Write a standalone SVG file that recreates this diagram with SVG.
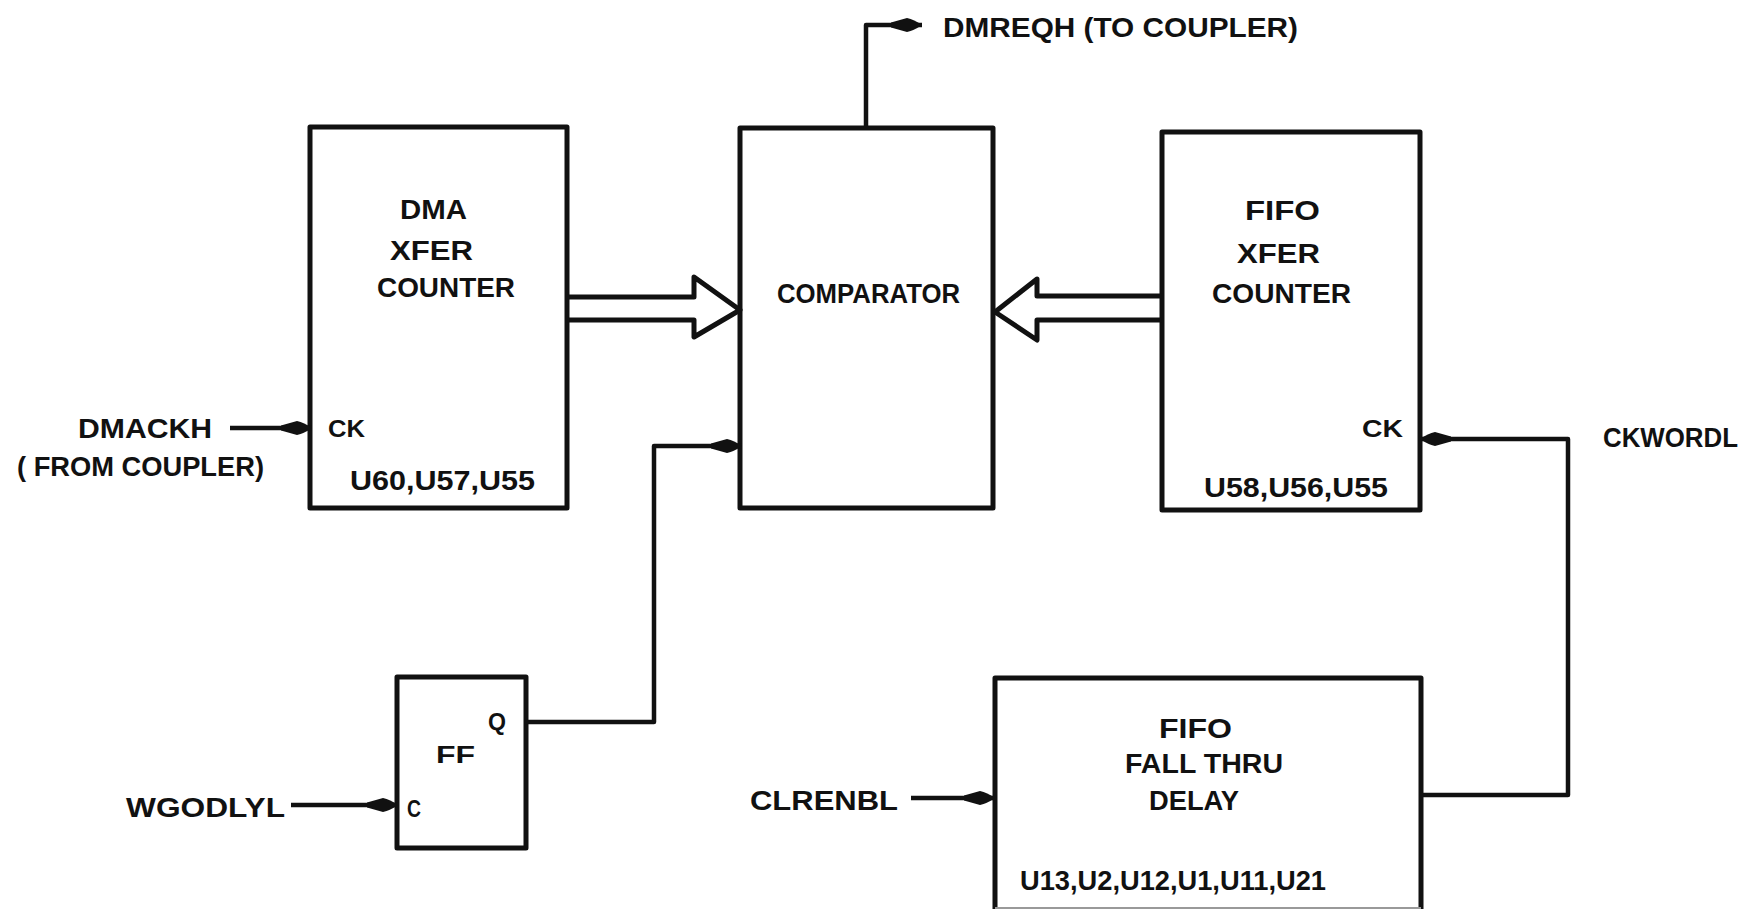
<svg xmlns="http://www.w3.org/2000/svg" width="1750" height="911" viewBox="0 0 1750 911">
<style>
.box{fill:none;stroke:#111;stroke-width:5;stroke-linejoin:round}
.w{fill:none;stroke:#111;stroke-width:4.5;stroke-linejoin:round}
.t{font-family:"Liberation Sans",Arial,sans-serif;font-weight:bold;fill:#111;font-size:27px}
.s{font-size:24px}
</style>
<defs>
<marker id="ah" viewBox="0 0 32 18" refX="31" refY="9" markerWidth="32" markerHeight="18" markerUnits="userSpaceOnUse" orient="auto">
<path d="M0,6.5 L16,2 Q23,3.5 31,9 Q23,14.5 16,16 L0,11.5 Z" fill="#111"/>
</marker>
</defs>
<rect width="1750" height="911" fill="#fff"/>
<g id="dma-counter">
<rect class="box" x="310" y="127" width="257" height="381"/>
<text class="t" x="400" y="219" textLength="67" lengthAdjust="spacingAndGlyphs">DMA</text>
<text class="t" x="390" y="260" textLength="83" lengthAdjust="spacingAndGlyphs">XFER</text>
<text class="t" x="377" y="297" textLength="138" lengthAdjust="spacingAndGlyphs">COUNTER</text>
<text class="t s" x="328" y="437" textLength="37" lengthAdjust="spacingAndGlyphs">CK</text>
<text class="t" x="350" y="490" textLength="185" lengthAdjust="spacingAndGlyphs">U60,U57,U55</text>
</g>
<g id="comparator">
<rect class="box" x="740" y="128" width="253" height="380"/>
<text class="t" x="777" y="303" textLength="183" lengthAdjust="spacingAndGlyphs">COMPARATOR</text>
</g>
<g id="fifo-counter">
<rect class="box" x="1162" y="132" width="258" height="378"/>
<text class="t" x="1245" y="220" textLength="75" lengthAdjust="spacingAndGlyphs">FIFO</text>
<text class="t" x="1237" y="263" textLength="83" lengthAdjust="spacingAndGlyphs">XFER</text>
<text class="t" x="1212" y="303" textLength="139" lengthAdjust="spacingAndGlyphs">COUNTER</text>
<text class="t s" x="1362" y="437" textLength="41" lengthAdjust="spacingAndGlyphs">CK</text>
<text class="t" x="1204" y="497" textLength="184" lengthAdjust="spacingAndGlyphs">U58,U56,U55</text>
</g>
<g id="ff">
<rect class="box" x="397" y="677" width="129" height="171"/>
<text class="t s" x="436" y="763" textLength="39" lengthAdjust="spacingAndGlyphs">FF</text>
<text class="t s" x="488" y="730" textLength="18" lengthAdjust="spacingAndGlyphs">Q</text>
<text class="t s" x="407" y="817" textLength="14" lengthAdjust="spacingAndGlyphs">C</text>
</g>
<g id="fall-thru">
<path class="box" d="M995,909 V678 H1421 V909"/>
<line x1="995" y1="908" x2="1421" y2="908" stroke="#999" stroke-width="2"/>
<text class="t" x="1159" y="738" textLength="73" lengthAdjust="spacingAndGlyphs">FIFO</text>
<text class="t" x="1125" y="773" textLength="158" lengthAdjust="spacingAndGlyphs">FALL THRU</text>
<text class="t" x="1149" y="810" textLength="90" lengthAdjust="spacingAndGlyphs">DELAY</text>
<text class="t" x="1020" y="890" textLength="306" lengthAdjust="spacingAndGlyphs">U13,U2,U12,U1,U11,U21</text>
</g>
<g id="labels">
<text class="t" x="943" y="37" textLength="355" lengthAdjust="spacingAndGlyphs">DMREQH (TO COUPLER)</text>
<text class="t" x="78" y="438" textLength="134" lengthAdjust="spacingAndGlyphs">DMACKH</text>
<text class="t" x="17" y="476" textLength="247" lengthAdjust="spacingAndGlyphs">( FROM COUPLER)</text>
<text class="t" x="1603" y="447" textLength="135" lengthAdjust="spacingAndGlyphs">CKWORDL</text>
<text class="t" x="126" y="817" textLength="159" lengthAdjust="spacingAndGlyphs">WGODLYL</text>
<text class="t" x="750" y="810" textLength="148" lengthAdjust="spacingAndGlyphs">CLRENBL</text>
</g>
<g id="connectors">
<path class="box" d="M567,297 H694 V277 L740,310 L694,337 V320 H567"/>
<path class="box" d="M1162,296 H1037 V279 L995,312 L1037,340 V320 H1162"/>
<path class="w" d="M866,128 V25 H922" marker-end="url(#ah)"/>
<path class="w" d="M230,428 H312" marker-end="url(#ah)"/>
<path class="w" d="M526,722 H654 V446 H742" marker-end="url(#ah)"/>
<path class="w" d="M291,805 H398" marker-end="url(#ah)"/>
<path class="w" d="M911,798 H995" marker-end="url(#ah)"/>
<path class="w" d="M1421,795 H1568 V439 H1420" marker-end="url(#ah)"/>
</g>
</svg>
